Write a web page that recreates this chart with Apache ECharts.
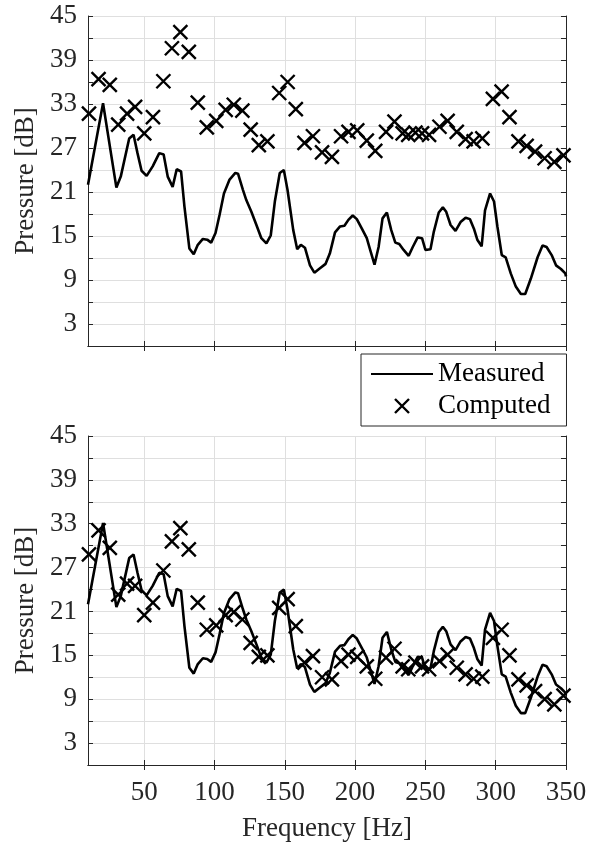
<!DOCTYPE html>
<html>
<head>
<meta charset="utf-8">
<script src="https://cdn.jsdelivr.net/npm/echarts@6/dist/echarts.min.js"></script>
<style>
  html, body { margin: 0; padding: 0; background: #fff; }
  #chart { width: 604px; height: 843px; }
</style>
</head>
<body>
<div id="chart"></div>
<script>
// measured response (same curve in both panels)
const measuredFreq = [10, 20.7, 30.2, 33.3, 39.3, 42.4, 45.2, 48.1, 51.7, 56, 60.7, 63.8, 66.7, 70.2, 73.1, 76.2, 78.6,
  82.1, 85.2, 88.1, 91.7, 94.8, 97.6, 100.7, 103.6, 106.7, 110.7, 114.8, 116.7, 120.2, 122.6, 126.2, 129.8, 133.3,
  136.9, 140, 142.9, 146.4, 149.3, 151.9, 156, 158.8, 161.4, 164.3, 167.9, 171, 175, 179, 182, 185.7, 189.3, 192.4,
  195.2, 198.3, 201.2, 204.8, 208.3, 210.7, 213.8, 216.7, 219.5, 222.6, 225.7, 228.6, 231.4, 234.5, 238.1, 241,
  244.5, 247.6, 250, 253.6, 256, 259.5, 262.4, 264.8, 267.9, 271.4, 275, 278.6, 281.7, 284.5, 286.9, 290, 292.4,
  296, 298.8, 301.2, 304.3, 307.1, 310.7, 314.3, 317.9, 321, 325, 329.8, 333.3, 336.2, 339.8, 342.9, 346.4, 349.5, 350]
const measuredLevel = [22, 33.1, 21.6, 23.1, 28.3, 28.8, 26.3, 23.9, 23.2, 24.5, 26.3, 26.1, 23.1, 21.7, 24.1, 23.8, 19,
  13.3, 12.5, 13.8, 14.6, 14.5, 14.1, 15.4, 17.9, 20.8, 22.7, 23.6, 23.5, 21.3, 19.9, 18.3, 16.5, 14.7,
  14.0, 15.1, 19.7, 23.6, 24, 21.3, 15.8, 13.2, 13.8, 13.4, 11.0, 10.0, 10.6, 11.2, 12.6, 15.5, 16.3, 16.4,
  17.2, 17.8, 17.3, 16.0, 14.7, 13.1, 11.1, 13.5, 17.4, 18.2, 15.8, 14.1, 13.9, 13.1, 12.3, 13.5,
  14.8, 14.7, 13.1, 13.2, 15.6, 18.2, 18.9, 18.3, 16.5, 15.7, 16.9, 17.5, 17.3, 16.0, 14.5, 13.6, 18.5,
  20.8, 19.7, 16.3, 12.4, 12.1, 9.9, 8.1, 7.1, 7.1, 9.2, 12.1, 13.7, 13.5, 12.4, 11.0, 10.5, 9.9, 9.5]

// computed points
const computedFreq = [10.7, 17.5, 25.5, 31.5, 37.8, 43.5, 50, 56.2, 63.6, 69.7, 75.7, 81.7, 88.1, 94.5, 101.2, 107.9,
  113.7, 119.8, 125.7, 131.5, 137.6, 146, 152, 157.8, 164, 170, 176.5, 183.5, 190, 195.3, 201.5, 208.3, 214.3, 222,
  228, 233.8, 237.8, 242.9, 247.6, 252.6, 260, 265.8, 272.3, 278.6, 284.3, 290.5, 298, 304.2, 309.8, 316.2, 322,
  328, 334.8, 341.7, 348.2]
const computedTop = [31.7, 36.4, 35.6, 30.2, 31.7, 32.6, 29.0, 31.2, 36.1, 40.6, 42.8, 40.1, 33.2, 29.8, 30.7, 32.2,
  32.9, 32.1, 29.5, 27.4, 27.9, 34.5, 36.0, 32.3, 27.7, 28.6, 26.4, 25.8, 28.6, 29.2, 29.4, 28.0, 26.6, 29.2,
  30.6, 29.0, 28.8, 29.1, 29.0, 28.8, 29.9, 30.7, 29.2, 28.2, 27.9, 28.3, 33.7, 34.7, 31.2, 27.9, 27.3,
  26.5, 25.6, 25.1, 26.0]
const computedBottom = [28.8, 32.1, 29.7, 23.3, 24.8, 24.5, 20.5, 22.2, 26.6, 30.6, 32.4, 29.5, 22.2, 18.5, 19.1, 20.5,
  20.9, 19.9, 16.7, 14.8, 15.0, 21.5, 22.7, 19.0, 14.0, 14.9, 12.0, 11.7, 14.2, 15.1, 14.8, 13.5, 11.8, 14.7,
  15.9, 13.5, 13.1, 14.0, 13.5, 13.1, 14.2, 15.1, 13.3, 12.4, 11.8, 12.1, 17.4, 18.5, 15.0, 11.7, 10.9,
  10.1, 9.0, 8.3, 9.5]

const xTickValues = [50, 100, 150, 200, 250, 300, 350]
const xLabelValues = [50, 100, 150, 200, 250, 300, 350]

const FONT = 'Liberation Serif'
const AXIS = '#262626'
const CROSS = 'path://M0,0L10,10M10,0L0,10'
const crossStyle = { color: 'transparent', borderColor: '#000', borderWidth: 2.4, opacity: 1 }

const pairs = (xs, ys) => xs.map((x, i) => [x, ys[i]])

const grids = [
  { left: 88, right: 38, top: 16, height: 330 },
  { left: 88, right: 38, top: 436, height: 330 },
]

function xAxisFor(gi, showLabels) {
  return [{
    type: 'value', gridIndex: gi, min: 10, max: 350,
    name: showLabels ? 'Frequency [Hz]' : '', nameLocation: 'middle', nameGap: 50,
    nameTextStyle: { fontFamily: FONT, fontSize: 27, color: AXIS },
    axisLine: { lineStyle: { color: AXIS, width: 1 } },
    axisTick: { inside: true, length: 5, customValues: xTickValues, lineStyle: { color: AXIS } },
    axisLabel: { show: showLabels, customValues: xLabelValues, margin: 14, fontFamily: FONT, fontSize: 27, color: AXIS },
    splitLine: { show: true, lineStyle: { color: '#dfdfdf', width: 1 } },
  }, {
    type: 'value', gridIndex: gi, min: 10, max: 350, position: 'top',
    axisLine: { lineStyle: { color: AXIS, width: 1 } },
    axisTick: { inside: true, length: 5, customValues: xTickValues, lineStyle: { color: AXIS } },
    axisLabel: { show: false }, splitLine: { show: false },
  }]
}

function yAxisFor(gi) {
  return [{
    type: 'value', gridIndex: gi, min: 0, max: 45, interval: 3,
    name: 'Pressure [dB]', nameLocation: 'middle', nameGap: 49,
    nameTextStyle: { fontFamily: FONT, fontSize: 27, color: AXIS },
    axisLine: { show: true, lineStyle: { color: AXIS, width: 1 } },
    axisTick: { show: true, inside: true, length: 5, lineStyle: { color: AXIS } },
    axisLabel: { margin: 11, fontFamily: FONT, fontSize: 27, color: AXIS, formatter: v => (v % 6 === 3 ? String(v) : '') },
    splitLine: { show: true, lineStyle: { color: '#dfdfdf', width: 1 } },
  }, {
    type: 'value', gridIndex: gi, min: 0, max: 45, interval: 3, position: 'right',
    axisLine: { show: true, lineStyle: { color: AXIS, width: 1 } },
    axisTick: { show: true, inside: true, length: 5, lineStyle: { color: AXIS } },
    axisLabel: { show: false }, splitLine: { show: false },
  }]
}

function panelSeries(gi, computed) {
  return [{
    name: 'Measured', type: 'line', xAxisIndex: gi * 2, yAxisIndex: gi * 2,
    data: pairs(measuredFreq, measuredLevel),
    showSymbol: false, symbol: 'none', animation: false, z: 3,
    lineStyle: { color: '#000', width: 2.6 }, itemStyle: { color: '#000' },
  }, {
    name: 'Computed', type: 'scatter', xAxisIndex: gi * 2, yAxisIndex: gi * 2,
    data: pairs(computedFreq, computed),
    symbol: CROSS, symbolSize: 14, animation: false, z: 4,
    itemStyle: crossStyle,
  }]
}

const chart = echarts.init(document.getElementById('chart'), null, { renderer: 'canvas' })
chart.setOption({
  backgroundColor: '#fff',
  animation: false,
  grid: grids,
  xAxis: [...xAxisFor(0, false), ...xAxisFor(1, true)],
  yAxis: [...yAxisFor(0), ...yAxisFor(1)],
  legend: {
    orient: 'vertical', left: 361, top: 354,
    padding: [5, 16, 5, 9], itemGap: 2, itemWidth: 62, itemHeight: 14,
    backgroundColor: '#fff', borderColor: AXIS, borderWidth: 1,
    textStyle: { fontFamily: FONT, fontSize: 27, color: '#000', lineHeight: 30 },
    data: [
      { name: 'Measured', itemStyle: { opacity: 0 } },
      { name: 'Computed', icon: CROSS, itemStyle: crossStyle },
    ],
  },
  series: [...panelSeries(0, computedTop), ...panelSeries(1, computedBottom)],
})
</script>
</body>
</html>
